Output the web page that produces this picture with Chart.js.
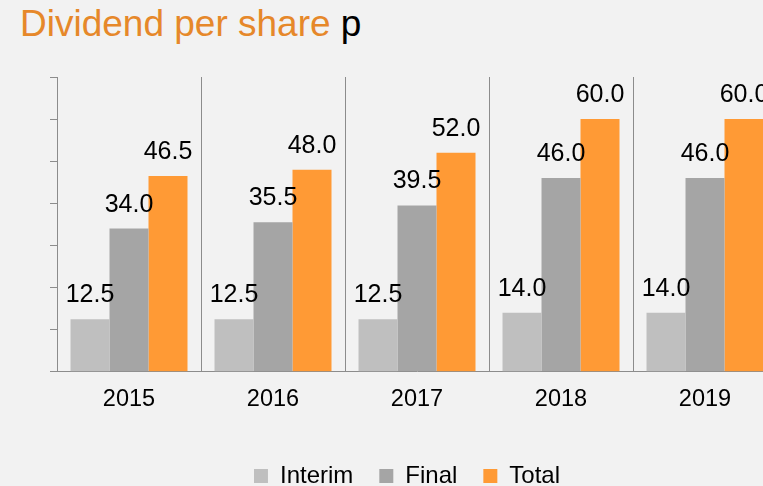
<!DOCTYPE html>
<html>
<head>
<meta charset="utf-8">
<script src="https://cdn.jsdelivr.net/npm/chart.js@4"></script>
<style>
  html, body { margin: 0; padding: 0; background: #f2f2f2; overflow: hidden; }
  body { width: 763px; height: 486px; position: relative; font-family: "Liberation Sans", Arial, sans-serif; }
  #title { position: absolute; left: 20px; top: 5px; font-size: 37px; line-height: 37px; color: #e6882a; white-space: nowrap; }
  #title span { color: #000; }
  #wrap { position: absolute; left: 0; top: 0; width: 814px; height: 498px; }
</style>
</head>
<body>
<div id="title">Dividend per share <span>p</span></div>
<div id="wrap"><canvas id="myChart"></canvas></div>
<script>
const years = ["2015", "2016", "2017", "2018", "2019"];
const interim = [12.5, 12.5, 12.5, 14.0, 14.0];
const final = [34.0, 35.5, 39.5, 46.0, 46.0];
const total = [46.5, 48.0, 52.0, 60.0, 60.0];

const lineGrey = '#8c8c8c';
const font = "'Liberation Sans', Arial, sans-serif";

// value labels above each bar
const barLabels = {
    id: 'barLabels',
    afterDatasetsDraw(chart) {
        const ctx = chart.ctx;
        ctx.save();
        ctx.font = '25px ' + font;
        ctx.fillStyle = '#000';
        ctx.textAlign = 'center';
        ctx.textBaseline = 'alphabetic';
        chart.data.datasets.forEach((ds, i) => {
            chart.getDatasetMeta(i).data.forEach((bar, j) => {
                ctx.fillText(ds.data[j].toFixed(1), bar.x, bar.y - 17);
            });
        });
        ctx.restore();
    }
};

new Chart(document.getElementById('myChart'), {
    type: 'bar',
    data: {
        labels: years,
        datasets: [
            { label: 'Interim', data: interim, backgroundColor: '#bfbfbf' },
            { label: 'Final', data: final, backgroundColor: '#a5a5a5' },
            { label: 'Total', data: total, backgroundColor: '#ff9a35' }
        ]
    },
    options: {
        responsive: true,
        maintainAspectRatio: false,
        animation: false,
        datasets: { bar: { categoryPercentage: 0.8125, barPercentage: 1.0 } },
        layout: { padding: { top: 77, left: 37, right: 37, bottom: 0 } },
        plugins: {
            title: { display: false },
            tooltip: { enabled: false },
            legend: {
                position: 'bottom',
                labels: {
                    font: { family: font, size: 24 },
                    color: '#000',
                    boxWidth: 14,
                    boxHeight: 14,
                    padding: 26
                }
            }
        },
        scales: {
            x: {
                grid: { color: lineGrey, drawTicks: false, offset: true },
                border: { color: lineGrey },
                ticks: { color: '#000', padding: 14, font: { family: font, size: 23.5 } },
                afterFit(scale) { scale.height += 10; }
            },
            y: {
                min: 0,
                max: 70,
                ticks: { stepSize: 10, display: false },
                grid: { drawOnChartArea: false, drawTicks: true, tickLength: 7, color: lineGrey },
                border: { color: lineGrey },
                afterFit(scale) { scale.width += 13; }
            }
        }
    },
    plugins: [barLabels]
});
</script>
</body>
</html>
